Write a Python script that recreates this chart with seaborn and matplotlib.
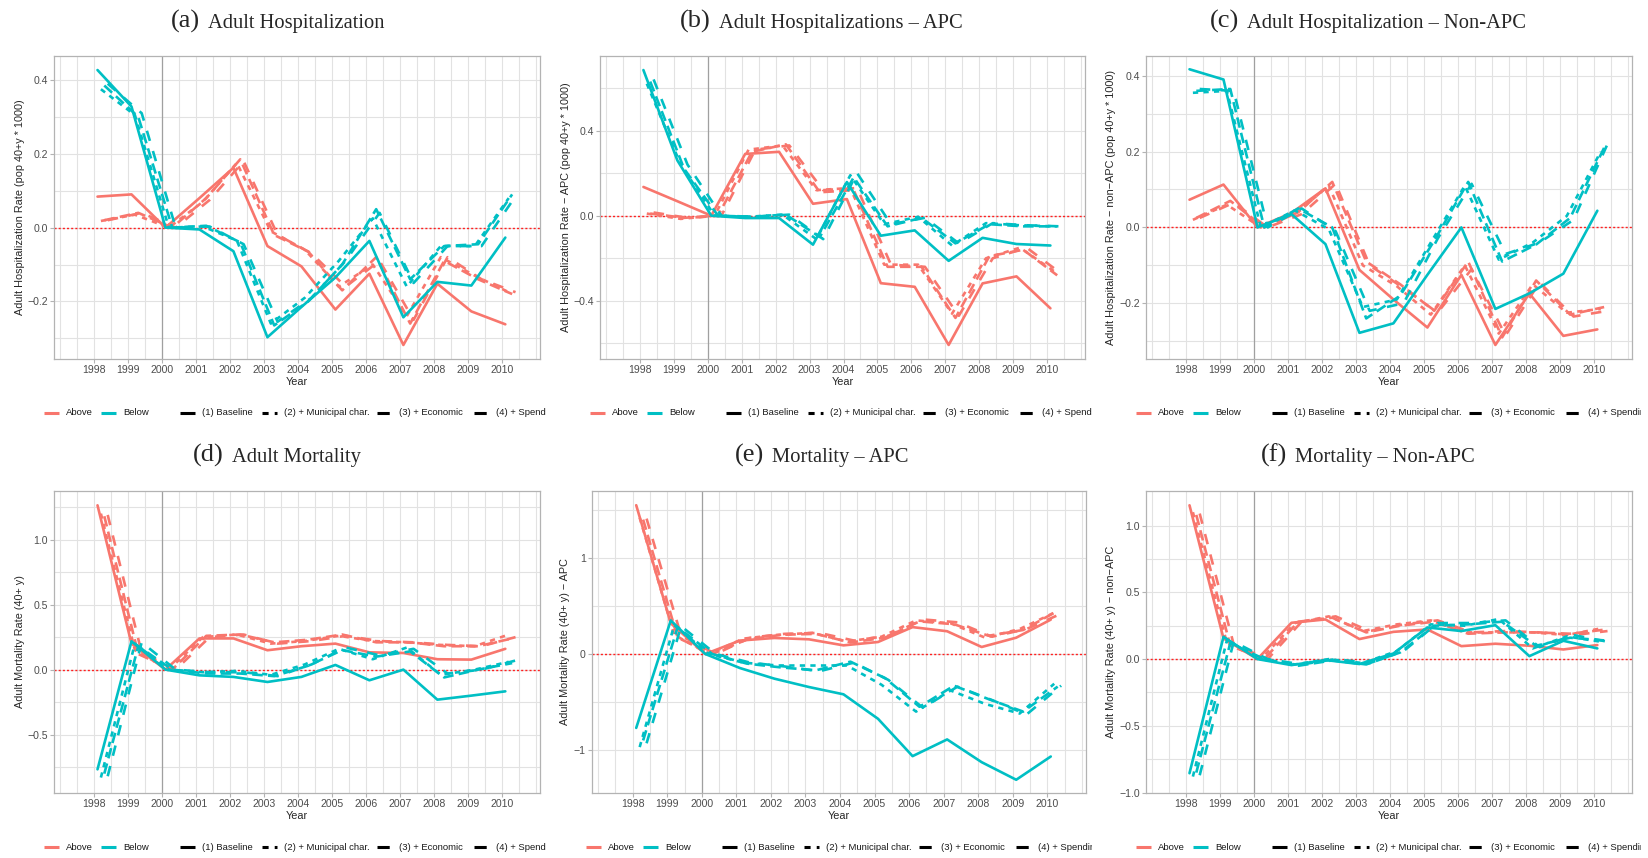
import numpy as np
import pandas as pd
import matplotlib
matplotlib.use("Agg")
import matplotlib.pyplot as plt
import seaborn as sns

#------------ data ------------#
years = list(range(1998, 2011))
groups = ["Above", "Below"]
models = ["(1) Baseline", "(2) + Municipal char.", "(3) + Economic", "(4) + Spending"]

# each block: one row per model, one value per year 1998..2010
a_above = [[0.084, 0.090, 0.0, 0.080, 0.162, -0.050, -0.105, -0.222, -0.125, -0.318, -0.152, -0.227, -0.262],
           [0.018, 0.035, 0.0, 0.070, 0.175, -0.010, -0.060, -0.160, -0.100, -0.240, -0.080, -0.130, -0.175],
           [0.020, 0.040, 0.0, 0.080, 0.185, -0.020, -0.065, -0.170, -0.080, -0.260, -0.090, -0.140, -0.180],
           [0.020, 0.040, 0.0, 0.075, 0.180, -0.020, -0.070, -0.160, -0.090, -0.250, -0.080, -0.140, -0.175]]
a_below = [[0.427, 0.328, 0.0, -0.005, -0.064, -0.297, -0.215, -0.135, -0.036, -0.243, -0.147, -0.157, -0.027],
           [0.375, 0.305, 0.0, 0.003, -0.035, -0.260, -0.190, -0.090, 0.025, -0.160, -0.050, -0.050, 0.080],
           [0.385, 0.300, 0.0, 0.005, -0.040, -0.265, -0.200, -0.100, 0.050, -0.140, -0.050, -0.045, 0.090],
           [0.390, 0.310, 0.0, 0.003, -0.045, -0.255, -0.190, -0.090, 0.040, -0.150, -0.050, -0.050, 0.085]]

b_above = [[0.135, 0.068, 0.0, 0.290, 0.300, 0.056, 0.078, -0.317, -0.334, -0.607, -0.318, -0.285, -0.435],
           [0.010, -0.015, 0.0, 0.310, 0.330, 0.120, 0.130, -0.230, -0.230, -0.460, -0.200, -0.150, -0.260],
           [0.010, -0.010, 0.0, 0.300, 0.335, 0.110, 0.120, -0.240, -0.240, -0.480, -0.190, -0.160, -0.280],
           [0.015, -0.010, 0.0, 0.310, 0.330, 0.120, 0.130, -0.230, -0.240, -0.470, -0.200, -0.150, -0.270]]
b_below = [[0.684, 0.260, 0.0, -0.011, -0.011, -0.136, 0.158, -0.094, -0.069, -0.212, -0.104, -0.133, -0.140],
           [0.620, 0.240, 0.0, -0.005, 0.005, -0.110, 0.190, -0.040, -0.005, -0.140, -0.035, -0.045, -0.050],
           [0.630, 0.220, 0.0, -0.005, 0.005, -0.100, 0.180, -0.050, -0.010, -0.130, -0.040, -0.050, -0.050],
           [0.640, 0.240, 0.0, -0.005, 0.005, -0.110, 0.200, -0.040, -0.010, -0.130, -0.035, -0.045, -0.050]]

c_above = [[0.073, 0.113, 0.0, 0.038, 0.103, -0.112, -0.190, -0.264, -0.125, -0.310, -0.174, -0.286, -0.269],
           [0.020, 0.060, 0.0, 0.035, 0.110, -0.100, -0.155, -0.230, -0.100, -0.280, -0.150, -0.225, -0.215],
           [0.025, 0.070, 0.0, 0.040, 0.120, -0.090, -0.150, -0.220, -0.090, -0.290, -0.140, -0.230, -0.210],
           [0.025, 0.065, 0.0, 0.035, 0.115, -0.100, -0.160, -0.225, -0.110, -0.285, -0.145, -0.235, -0.220]]
c_below = [[0.417, 0.390, 0.0, 0.035, -0.044, -0.278, -0.253, -0.125, 0.000, -0.215, -0.174, -0.122, 0.044],
           [0.355, 0.360, 0.0, 0.045, -0.005, -0.210, -0.190, -0.040, 0.110, -0.085, -0.040, 0.030, 0.200],
           [0.360, 0.365, 0.0, 0.050, 0.000, -0.240, -0.180, -0.035, 0.120, -0.090, -0.045, 0.025, 0.210],
           [0.365, 0.360, 0.0, 0.050, -0.010, -0.220, -0.200, -0.030, 0.115, -0.070, -0.040, 0.020, 0.220]]

d_above = [[1.264, 0.200, 0.0, 0.240, 0.240, 0.149, 0.180, 0.200, 0.133, 0.128, 0.080, 0.077, 0.160],
           [1.200, 0.150, 0.0, 0.250, 0.270, 0.200, 0.220, 0.260, 0.220, 0.210, 0.190, 0.180, 0.270],
           [1.180, 0.120, 0.0, 0.260, 0.270, 0.210, 0.230, 0.270, 0.210, 0.210, 0.180, 0.180, 0.240],
           [1.190, 0.130, 0.0, 0.250, 0.270, 0.200, 0.220, 0.260, 0.220, 0.210, 0.190, 0.180, 0.250]]
d_below = [[-0.767, 0.218, 0.0, -0.044, -0.056, -0.095, -0.056, 0.036, -0.082, 0.000, -0.231, -0.200, -0.167],
           [-0.830, 0.200, 0.0, -0.020, -0.010, -0.040, 0.040, 0.160, 0.080, 0.170, -0.040, 0.000, 0.060],
           [-0.800, 0.180, 0.0, -0.030, -0.030, -0.050, 0.030, 0.150, 0.100, 0.140, -0.060, 0.000, 0.050],
           [-0.820, 0.210, 0.0, -0.020, -0.020, -0.050, 0.040, 0.170, 0.110, 0.160, -0.030, 0.000, 0.070]]

e_above = [[1.550, 0.320, 0.0, 0.140, 0.167, 0.153, 0.090, 0.125, 0.280, 0.237, 0.073, 0.170, 0.358],
           [1.420, 0.200, 0.0, 0.160, 0.200, 0.220, 0.130, 0.180, 0.350, 0.320, 0.170, 0.260, 0.430],
           [1.400, 0.170, 0.0, 0.150, 0.200, 0.210, 0.120, 0.170, 0.340, 0.310, 0.190, 0.250, 0.450],
           [1.410, 0.190, 0.0, 0.170, 0.210, 0.220, 0.140, 0.190, 0.360, 0.330, 0.180, 0.260, 0.420]]
e_below = [[-0.770, 0.350, 0.0, -0.146, -0.257, -0.344, -0.420, -0.675, -1.064, -0.890, -1.127, -1.310, -1.068],
           [-0.970, 0.300, 0.0, -0.090, -0.120, -0.120, -0.120, -0.320, -0.600, -0.380, -0.520, -0.620, -0.310],
           [-0.900, 0.280, 0.0, -0.100, -0.140, -0.170, -0.080, -0.250, -0.550, -0.330, -0.470, -0.600, -0.340],
           [-0.930, 0.290, 0.0, -0.090, -0.130, -0.180, -0.090, -0.270, -0.560, -0.340, -0.480, -0.630, -0.330]]

f_above = [[1.152, 0.155, 0.0, 0.272, 0.297, 0.150, 0.204, 0.222, 0.097, 0.115, 0.100, 0.072, 0.105],
           [1.100, 0.120, 0.0, 0.270, 0.320, 0.210, 0.260, 0.290, 0.200, 0.200, 0.200, 0.180, 0.230],
           [1.080, 0.100, 0.0, 0.280, 0.310, 0.200, 0.250, 0.280, 0.190, 0.200, 0.200, 0.190, 0.220],
           [1.090, 0.110, 0.0, 0.280, 0.320, 0.210, 0.260, 0.290, 0.200, 0.210, 0.200, 0.180, 0.210]]
f_below = [[-0.855, 0.167, 0.0, -0.045, -0.007, -0.037, 0.042, 0.237, 0.210, 0.254, 0.022, 0.137, 0.080],
           [-0.880, 0.140, 0.0, -0.040, 0.000, -0.030, 0.060, 0.260, 0.250, 0.300, 0.080, 0.170, 0.130],
           [-0.850, 0.120, 0.0, -0.050, -0.010, -0.040, 0.050, 0.250, 0.260, 0.280, 0.100, 0.160, 0.140],
           [-0.870, 0.130, 0.0, -0.040, 0.000, -0.030, 0.060, 0.270, 0.270, 0.290, 0.090, 0.180, 0.130]]

#------------ style ------------#
W, H = 1648, 858
PALETTE = {"Above": "#F8766D", "Below": "#00BFC4"}
DASHES = {models[0]: "", models[1]: (2, 2), models[2]: (4, 2), models[3]: (4, 4)}
SHIFT = [0.1, 0.2, 0.3, 0.4]   # dodge of the four models along x

sns.set_theme(style="whitegrid")
plt.rcParams['font.family'] = ['Liberation Sans', 'DejaVu Sans']
SERIF = ['Liberation Serif', 'DejaVu Serif']


def box(x0, y0, x1, y1):
    return [x0 / W, 1 - y1 / H, (x1 - x0) / W, (y1 - y0) / H]


def long_frame(above, below):
    rows = []
    for g, block in zip(groups, [above, below]):
        for k, vals in enumerate(block):
            for yr, v in zip(years, vals):
                rows.append({"year": yr + SHIFT[k], "value": v, "group": g, "model": models[k]})
    return pd.DataFrame(rows)


panels = [
    # letter, title, ylabel, above, below, ylim, major ticks, tick labels, minor, axes box, ylabel right edge, title x, legend offset, legend clip, row
    ("(a)", "Adult Hospitalization", "Adult Hospitalization Rate (pop 40+y * 1000)",
     a_above, a_below, (-0.356, 0.465), [-0.2, 0, 0.2, 0.4], ["\u22120.2", "0.0", "0.2", "0.4"],
     [-0.3, -0.1, 0.1, 0.3], (54, 540), 25, 208, 0, 546, 0),
    ("(b)", "Adult Hospitalizations \u2013 APC", "Adult Hospitalization Rate \u2212 APC (pop 40+y * 1000)",
     b_above, b_below, (-0.673, 0.75), [-0.4, 0, 0.4], ["\u22120.4", "0.0", "0.4"],
     [-0.6, -0.2, 0.2, 0.6], (600, 1085), 571, 719, 546, 1092, 0),
    ("(c)", "Adult Hospitalization \u2013 Non-APC", "Adult Hospitalization Rate \u2212 non\u2212APC (pop 40+y * 1000)",
     c_above, c_below, (-0.347, 0.452), [-0.2, 0, 0.2, 0.4], ["\u22120.2", "0.0", "0.2", "0.4"],
     [-0.3, -0.1, 0.1, 0.3], (1146, 1632), 1116, 1247, 1092, 1641, 0),
    ("(d)", "Adult Mortality", "Adult Mortality Rate (40+ y)",
     d_above, d_below, (-0.949, 1.374), [-0.5, 0, 0.5, 1.0], ["\u22120.5", "0.0", "0.5", "1.0"],
     [-0.75, -0.25, 0.25, 0.75, 1.25], (54, 540), 25, 232, 0, 546, 1),
    ("(e)", "Mortality \u2013 APC", "Adult Mortality Rate (40+ y) \u2212 APC",
     e_above, e_below, (-1.448, 1.698), [-1, 0, 1], ["\u22121", "0", "1"],
     [-0.5, 0.5, 1.5], (592, 1086), 570, 772, 542, 1092, 1),
    ("(f)", "Mortality \u2013 Non-APC", "Adult Mortality Rate (40+ y) \u2212 non\u2212APC",
     f_above, f_below, (-1.003, 1.259), [-1, -0.5, 0, 0.5, 1.0], ["\u22121.0", "\u22120.5", "0.0", "0.5", "1.0"],
     [-0.75, -0.25, 0.25, 0.75], (1146, 1632), 1116, 1295, 1092, 1641, 1),
]

ROW_Y = [(56, 359), (491, 793)]
TITLE_BASE = [28, 462]
LEGEND_Y = [413, 847]

fig = plt.figure(figsize=(W / 100, H / 100), dpi=100)

for (letter, title, ylabel, above, below, ylim, major, labels, minor,
     (x0, x1), ylab_x, title_x, leg_off, leg_clip, row) in panels:
    y0, y1 = ROW_Y[row]
    ax = fig.add_axes(box(x0, y0, x1, y1))
    df = long_frame(above, below)

    ax.axvline(2000, color="#A0A0A0", lw=0.9, zorder=1)
    ax.axhline(0, color="#FF2020", lw=1.0, ls=(0, (1.5, 1.5)), zorder=1)
    sns.lineplot(data=df, x="year", y="value", hue="group", style="model",
                 hue_order=groups, style_order=models, palette=PALETTE,
                 dashes=DASHES, linewidth=1.9, legend=False, errorbar=None, ax=ax)

    ax.set_xlim(1996.82, 2011.12)
    ax.set_ylim(*ylim)
    ax.set_xticks(years)
    ax.set_xticklabels([str(y) for y in years])
    ax.set_xticks(np.arange(1997, 2011.01, 0.5), minor=True)
    ax.set_yticks(major)
    ax.set_yticklabels(labels)
    ax.set_yticks(minor, minor=True)
    ax.grid(which="both", color="#E2E2E2", lw=0.8)
    ax.set_axisbelow(True)
    for sp in ax.spines.values():
        sp.set_color("#B3B3B3")
        sp.set_linewidth(0.9)
    ax.tick_params(which="major", length=3, width=0.8, color="#B3B3B3", pad=1.5,
                   labelsize=7.6, labelcolor="#4D4D4D", bottom=True, left=True)
    ax.tick_params(which="minor", length=0)

    ax.set_xlabel("Year", fontsize=7.8, labelpad=1.5)
    ax.set_ylabel(ylabel, fontsize=7.8)
    ax.yaxis.set_label_coords((ylab_x - x0) / (x1 - x0), 0.5)

    # panel title: letter set larger, like the caption
    fig.text((title_x - 8) / W, 1 - TITLE_BASE[row] / H, letter, ha="right", va="baseline",
             fontsize=19, family=SERIF)
    fig.text(title_x / W, 1 - TITLE_BASE[row] / H, title, ha="left", va="baseline",
             fontsize=14.8, family=SERIF)

    # legend row, cut off at the panel edge as in the source
    yc = LEGEND_Y[row]
    lax = fig.add_axes(box(leg_off, yc - 12, leg_clip, yc + 12))
    lax.set_xlim(leg_off, leg_clip)
    lax.set_ylim(yc + 12, yc - 12)
    lax.axis("off")
    keys = [(44, "Above", PALETTE["Above"], ""), (101, "Below", PALETTE["Below"], ""),
            (180, models[0], "black", DASHES[models[0]]), (262, models[1], "black", DASHES[models[1]]),
            (377, models[2], "black", DASHES[models[2]]), (474, models[3], "black", DASHES[models[3]])]
    for kx, lab, col, dash in keys:
        ln, = lax.plot([leg_off + kx, leg_off + kx + 15], [yc, yc], color=col, lw=2.2,
                       solid_capstyle="butt", dash_capstyle="butt")
        if dash:
            ln.set_dashes(dash)
        lax.text(leg_off + kx + 22, yc, lab, ha="left", va="center", fontsize=6.8,
                 color="#1A1A1A", clip_on=True)

fig.savefig("out.png", dpi=100)
